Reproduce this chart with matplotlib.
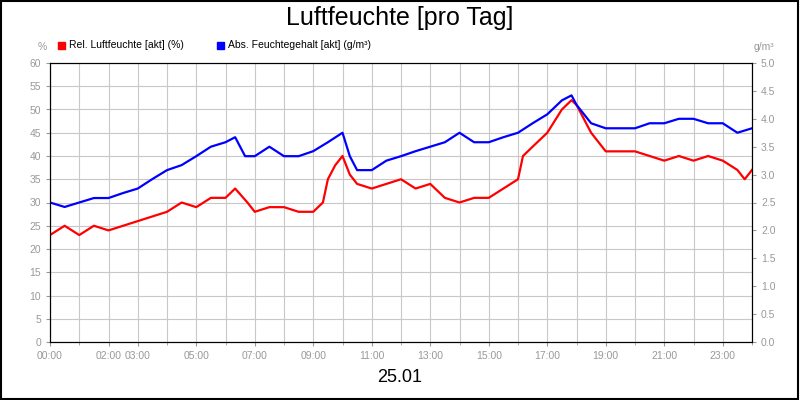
import matplotlib
matplotlib.use("Agg")
import matplotlib.pyplot as plt
from matplotlib.patches import Rectangle
plt.rcParams['font.family'] = ['Liberation Sans', 'DejaVu Sans']

rel_t = [0,0.5,1,1.5,2,2.5,3,3.5,4,4.5,5,5.5,6,6.33,6.75,7,7.5,8,8.5,9,9.33,9.5,9.75,10,10.25,10.5,11,11.5,12,12.5,13,13.5,14,14.5,15,15.5,16,16.17,16.5,17,17.5,17.83,18,18.5,19,19.5,20,20.5,21,21.5,22,22.5,23,23.5,23.75,24]
rel_v = [23,25,23,25,24,25,26,27,28,30,29,31,31,33,30,28,29,29,28,28,30,35,38,40,36,34,33,34,35,33,34,31,30,31,31,33,35,40,42,45,50,52,51,45,41,41,41,40,39,40,39,40,39,37,35,37]
abs_t = [0,0.5,1,1.5,2,2.5,3,3.5,4,4.5,5,5.5,6,6.33,6.67,7,7.5,8,8.5,9,9.5,10,10.25,10.5,11,11.5,12,12.5,13,13.5,14,14.5,15,15.5,16,16.5,17,17.5,17.83,18,18.5,19,19.5,20,20.5,21,21.5,22,22.5,23,23.5,24]
abs_v = [2.5,2.42,2.5,2.58,2.58,2.67,2.75,2.92,3.08,3.17,3.33,3.5,3.58,3.67,3.33,3.33,3.5,3.33,3.33,3.42,3.58,3.75,3.33,3.08,3.08,3.25,3.33,3.42,3.5,3.58,3.75,3.58,3.58,3.67,3.75,3.92,4.08,4.33,4.42,4.25,3.92,3.83,3.83,3.83,3.92,3.92,4.0,4.0,3.92,3.92,3.75,3.83]
tick_hours = [0,2,3,5,7,9,11,13,15,17,19,21,23]
tick_labels = ["00:00","02:00","03:00","05:00","07:00","09:00","11:00","13:00","15:00","17:00","19:00","21:00","23:00"]

fig = plt.figure(figsize=(8,4), dpi=100)
fig.patches.append(Rectangle((0.001,0.002),0.997,0.996,transform=fig.transFigure,fill=False,edgecolor='black',lw=1.5))
ax = fig.add_axes([0.0625,0.145,0.8775,0.6975])
ax2 = ax.twinx()
grey = '#999999'
ax.set_xlim(0,24); ax.set_ylim(0,60); ax2.set_ylim(0,5)
ax.set_yticks(range(0,61,5))
ax2.set_yticks([i*0.5 for i in range(11)])
ax2.set_yticklabels([f"{i*0.5:.1f}" for i in range(11)])
ax.set_xticks(tick_hours); ax.set_xticklabels(tick_labels)
ax.set_xticks(range(25), minor=True)
ax.grid(True, which='both', axis='x', color='#c8c8c8', lw=0.8)
ax.grid(True, which='major', axis='y', color='#c8c8c8', lw=0.8)
for a in (ax, ax2):
    a.tick_params(labelsize=7.5, labelcolor=grey, color=grey, length=3)
    for s in a.spines.values(): s.set_color('black')
ax.tick_params(axis='x', which='minor', length=2, color=grey)
ax.plot(rel_t, rel_v, color='#ff0000', lw=1.6)
ax2.plot(abs_t, abs_v, color='#0000ff', lw=1.6)
fig.text(0.5,0.955,"Luftfeuchte [pro Tag]",ha='center',va='center',fontsize=18)
fig.text(0.5,0.055,"25.01",ha='center',va='center',fontsize=13)
fig.text(0.053,0.882,"%",ha='center',va='center',fontsize=7.5,color=grey)
fig.text(0.955,0.882,"g/m³",ha='center',va='center',fontsize=7.5,color=grey)
fig.patches.append(Rectangle((0.072,0.878),0.009,0.018,transform=fig.transFigure,color='#ff0000'))
fig.text(0.086,0.887,"Rel. Luftfeuchte [akt] (%)",va='center',fontsize=7.5)
fig.patches.append(Rectangle((0.271,0.878),0.009,0.018,transform=fig.transFigure,color='#0000ff'))
fig.text(0.285,0.887,"Abs. Feuchtegehalt [akt] (g/m³)",va='center',fontsize=7.5)
fig.savefig("out.png", dpi=100)
